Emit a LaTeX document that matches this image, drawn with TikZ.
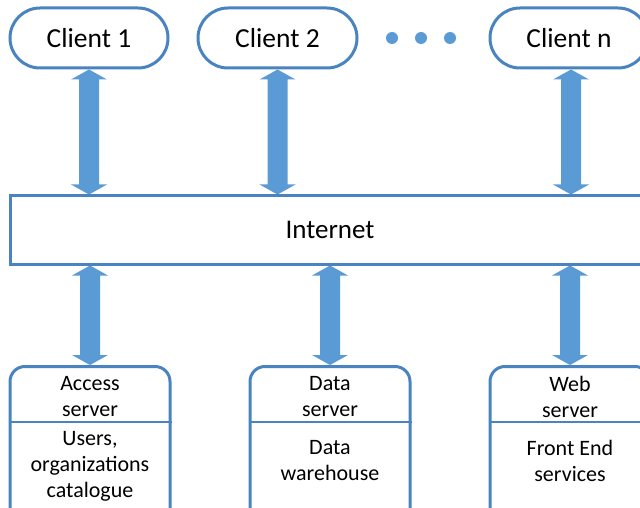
\documentclass[tikz,border=0pt]{standalone}
\usepackage{fontspec}
\setmainfont{Carlito}
\usetikzlibrary{calc}
\definecolor{edgeblue}{RGB}{74,132,192}
\definecolor{arrowblue}{RGB}{91,155,213}
\tikzset{
  client/.style={draw=edgeblue, line width=3pt, rounded corners=30pt, minimum width=158pt,
    minimum height=60pt, inner sep=0pt, font=\fontsize{27.5}{30}\selectfont},
  netbox/.style={draw=edgeblue, line width=3pt, minimum width=640pt, minimum height=68pt,
    inner sep=0pt},
  server/.style={draw=edgeblue, line width=3pt, rounded corners=15pt, minimum width=160pt,
    minimum height=160pt, inner sep=0pt},
  divider/.style={draw=edgeblue, line width=2pt},
  label/.style={align=center, inner sep=0pt, font=\fontsize{22}{26}\selectfont},
  dot/.style={circle, fill=arrowblue, minimum size=12pt, inner sep=0pt},
}
\newcommand\bidir[2]{%
  \fill[arrowblue] let \p1=(#1), \p2=(#2) in
    (\x1,\y1) -- (\x1+18pt,\y1-10pt) -- (\x1+10pt,\y1-10pt) -- (\x1+10pt,\y2+10pt)
    -- (\x1+18pt,\y2+10pt) -- (\x1,\y2) -- (\x1-18pt,\y2+10pt) -- (\x1-10pt,\y2+10pt)
    -- (\x1-10pt,\y1-10pt) -- (\x1-18pt,\y1-10pt) -- cycle;}
\begin{document}
\begin{tikzpicture}[x=1pt,y=1pt]
\useasboundingbox (0,0) rectangle (640,507);
\clip (0,0) rectangle (640,507);
\fill[white] (0,0) rectangle (640,507);
% clients
\node[client] (c1) at (89,469) {Client 1};
\node[client, minimum width=159pt] (c2) at (277.5,469) {Client 2};
\node[client] (cn) at (569,469) {Client n};
\node[dot] (d1) at (392,469) {};
\node[dot] (d2) at (421,469) {};
\node[dot] (d3) at (450,469) {};
% internet
\node[netbox] (inet) at (330,277) {};
\node[label, font=\fontsize{27}{30}\selectfont] (inettext) at (330,277) {Internet};
% servers
\node[server, anchor=north] (acc) at (90,142) {};
\node[server, anchor=north] (dat) at (330,142) {};
\node[server, anchor=north] (web) at (570,142) {};
\foreach \b in {acc,dat,web}{
  \coordinate (\b-l) at (\b.west |- 0,85);
  \coordinate (\b-r) at (\b.east |- 0,85);
  \draw[divider] (\b-l) -- (\b-r);
}
\node[label] (acct) at (90,110) {Access\\server};
\node[label] (accb) at (90,41) {Users,\\organizations\\catalogue};
\node[label] (datt) at (330,110) {Data\\server};
\node[label] (datb) at (330,46) {Data\\warehouse};
\node[label] (webt) at (570,110) {Web\\server};
\node[label] (webb) at (570,46) {Front End\\services};
% arrows
\bidir{c1.south}{c1.south |- inet.north}
\bidir{c2.south}{c2.south |- inet.north}
\bidir{$(cn.south)+(2,0)$}{$(cn.south |- inet.north)+(2,0)$}
\bidir{inet.south -| acc.north}{acc.north}
\bidir{inet.south -| dat.north}{dat.north}
\bidir{inet.south -| web.north}{web.north}
\end{tikzpicture}
\end{document}
